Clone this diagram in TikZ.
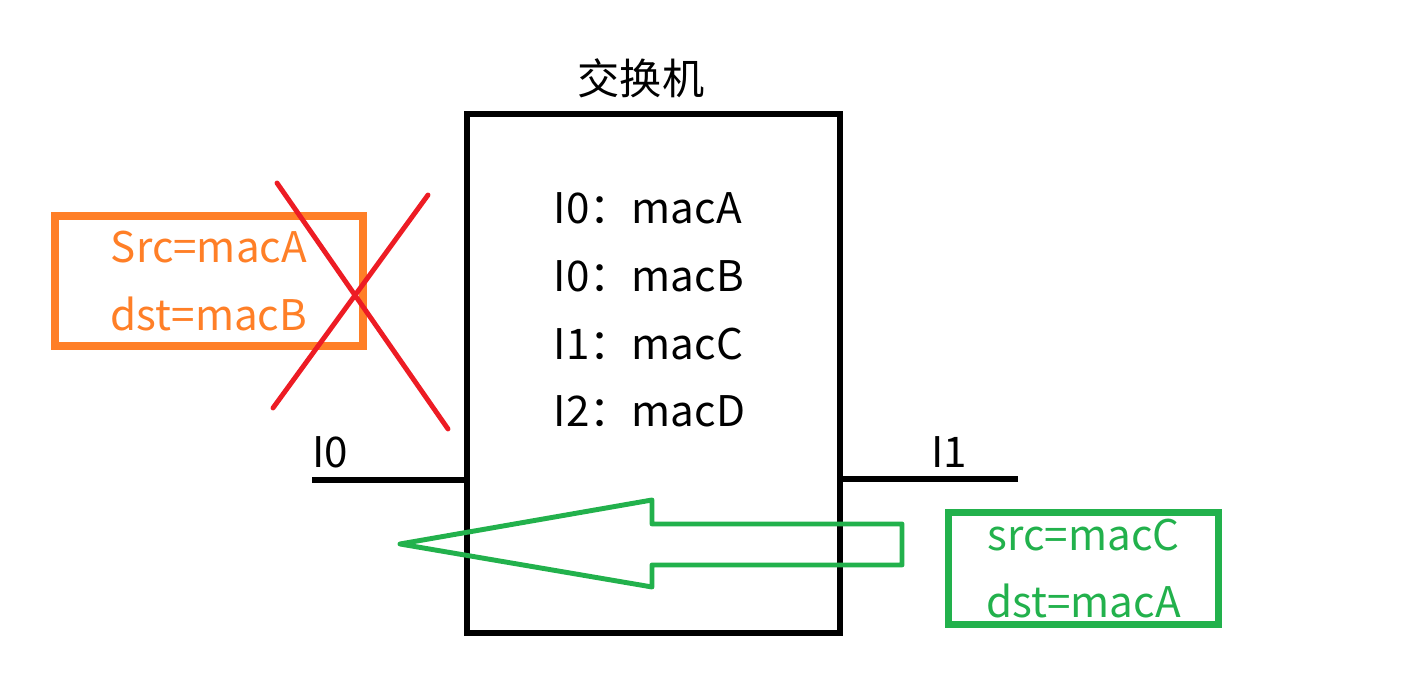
\documentclass[tikz,border=0pt]{standalone}
\usepackage{fontspec}
\setmainfont{Noto Sans CJK SC}
\usepackage{xcolor}
\usetikzlibrary{positioning, calc}

\definecolor{framorange}{RGB}{255,127,39}
\definecolor{crossred}{RGB}{237,28,36}
\definecolor{flowgreen}{RGB}{34,177,76}

\begin{document}
\begin{tikzpicture}[x=0.01cm, y=-0.01cm, font=\fontsize{12}{19.3}\selectfont]
    \tikzstyle{switchbox} = [rectangle, draw, line width=1.7pt, minimum width=3.73cm, minimum height=5.19cm]
    \tikzstyle{frame} = [rectangle, draw, align=center, inner sep=0pt]
    \tikzstyle{port} = [line width=1.5pt]
    \tikzstyle{entry} = [anchor=west, inner sep=0pt]

    \useasboundingbox (0,0) rectangle (1402,689);

    % switch
    \node [switchbox] (sw) at (653.5,373.5) {};
    \node (title) at (641,78) {交换机};

    % MAC table
    \node [entry] (e1) at (553,208) {I0：macA};
    \node [entry] (e2) at (553,276) {I0：macB};
    \node [entry] (e3) at (553,344) {I1：macC};
    \node [entry] (e4) at (553,411) {I2：macD};

    % ports
    \coordinate (p0) at (312,480);
    \coordinate (p1) at (1018,479);
    \draw [port] (p0) -- (p0 -| sw.west);
    \draw [port] (p1) -- (p1 -| sw.east);
    \node (l0) at (330,452) {I0};
    \node (l1) at (949,452) {I1};

    % frames
    \node [frame, draw=framorange, text=framorange, line width=2.3pt,
           minimum width=3.08cm, minimum height=1.30cm] (fa) at (209,281)
          {Src=macA\\dst=macB};
    \node [frame, draw=flowgreen, text=flowgreen, line width=2pt,
           minimum width=2.69cm, minimum height=1.11cm] (fc) at (1083.5,568.5)
          {src=macC\\dst=macA};

    % dropped frame
    \draw [crossred, line width=1.4pt, line cap=round] (277,183) -- (448,429);
    \draw [crossred, line width=1.4pt, line cap=round] (428,195) -- (273,408);

    % forwarding arrow
    \draw [flowgreen, line width=1.4pt, line join=round] (400,544) -- (652,500) -- (652,524) -- (902,524)
        -- (902,565) -- (652,565) -- (652,587) -- cycle;
\end{tikzpicture}
\end{document}
